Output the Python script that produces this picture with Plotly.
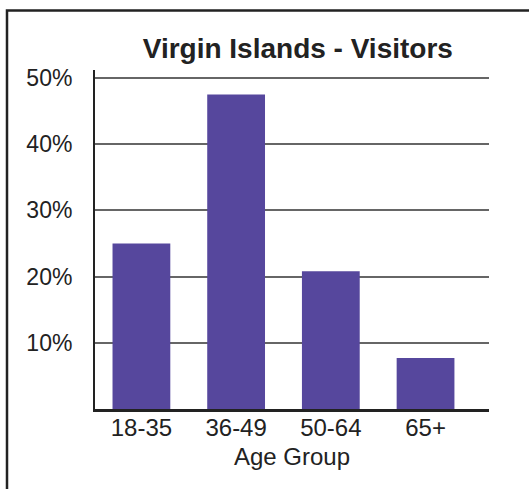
import plotly.graph_objects as go

categories = ["18-35", "36-49", "50-64", "65+"]
visitors_pct = [25.0, 47.5, 20.8, 7.7]
y_tick_vals = [10, 20, 30, 40, 50]
y_tick_text = ["10%", "20%", "30%", "40%", "50%"]

FONT = "Liberation Sans, Arial, sans-serif"
TXT = "#222222"

fig = go.Figure(go.Bar(
    x=categories,
    y=visitors_pct,
    marker=dict(color="#56479d", line=dict(width=0)),
    width=0.61,
))

fig.update_layout(
    width=529, height=489,
    margin=dict(l=95, r=40, t=70, b=80),
    paper_bgcolor="white", plot_bgcolor="white",
    showlegend=False,
    title=dict(text="<b>Virgin Islands - Visitors</b>", x=0.563, xanchor="center",
               y=1 - 48 / 489, yanchor="middle",
               font=dict(family=FONT, size=28, color=TXT)),
    font=dict(family=FONT, color=TXT),
)

fig.update_xaxes(
    type="category", range=[-0.49, 3.67],
    showline=True, linecolor="#222222", linewidth=3,
    showgrid=False, ticks="", ticklabelstandoff=-5,
    tickfont=dict(family=FONT, size=24, color=TXT),
    title=dict(text="Age Group", standoff=9, font=dict(family=FONT, size=24, color=TXT)),
)
fig.update_yaxes(
    range=[0, 51.2],
    tickvals=y_tick_vals, ticktext=y_tick_text,
    showline=True, linecolor="#222222", linewidth=2,
    showgrid=True, gridcolor="#666666", gridwidth=2,
    zeroline=False, ticks="", ticklabelstandoff=16,
    tickfont=dict(family=FONT, size=23, color=TXT),
)

# outer frame (cropped at right and bottom)
fig.add_shape(type="rect", xref="paper", yref="paper",
              x0=(7 - 95) / 394, x1=2.0, y0=-1.0, y1=(409 - 10.5) / 339,
              line=dict(color="#222222", width=2.5), fillcolor="rgba(0,0,0,0)", layer="below")

fig.write_html("out.html")
